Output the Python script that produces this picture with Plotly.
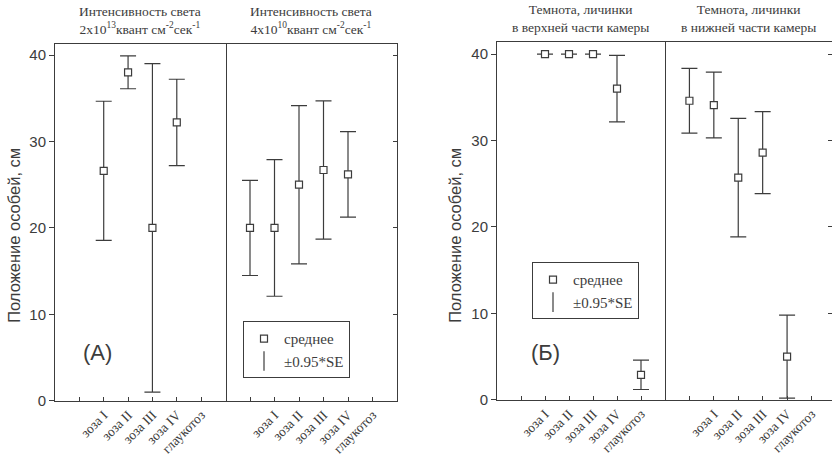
import plotly.graph_objects as go

# Category labels shared by all four panels (x slots 2..6; slot 1 carries only a tick)
CATEGORIES = ["зоза I", "зоза II", "зоза III", "зоза IV", "глаукотоз"]
Y_TICKS = [0, 10, 20, 30, 40]

# (А) light 2x10^13 — mean position, cm, and ±0.95*SE half-width
light_high_mean = [26.6, 38.0, 20.0, 32.2, None]
light_high_se = [8.05, 1.9, 19.0, 5.0, None]

# (А) light 4x10^10
light_low_mean = [20.0, 20.0, 25.0, 26.7, 26.2]
light_low_se = [5.5, 7.9, 9.15, 8.0, 4.95]

# (Б) darkness, larvae started in the upper part of the chamber
dark_top_mean = [40.0, 40.0, 40.0, 36.0, 2.9]
dark_top_se = [0.0, 0.0, 0.0, 3.85, 1.7]

# (Б) darkness, larvae started in the lower part of the chamber
dark_bottom_mean = [34.6, 34.1, 25.7, 28.6, 5.0]
dark_bottom_se = [3.75, 3.8, 6.85, 4.75, 4.8]

HEADERS = [
    "Интенсивность света<br>2x10<sup>13</sup>квант см<sup>-2</sup>сек<sup>-1</sup>",
    "Интенсивность света<br>4x10<sup>10</sup>квант см<sup>-2</sup>сек<sup>-1</sup>",
    "Темнота, личинки<br>в верхней части камеры",
    "Темнота, личинки<br>в нижней части камеры",
]
Y_TITLE = "Положение особей, см"
MEAN_NAME = "среднее"
SE_NAME = "±0.95*SE"

INK = "#3c3c3c"
SERIF = "Liberation Serif, Times New Roman, serif"
SANS = "Liberation Sans, Arial, sans-serif"

W, H = 832, 457


def px_x(p):
    return p / W


def px_y(p):
    return 1 - p / H


DOM_A = [px_y(408), px_y(45)]
DOM_B = [px_y(407), px_y(42.7)]

MARKER = dict(symbol="square", size=7, color="white", line=dict(color=INK, width=1.2))

fig = go.Figure()


def add_series(xa, ya, means, errs, first_slot):
    xs = [first_slot + i for i in range(len(means))]
    fig.add_trace(go.Scatter(
        x=xs, y=means, mode="markers", xaxis=xa, yaxis=ya, showlegend=False,
        cliponaxis=False, marker=MARKER,
        error_y=dict(type="data", array=errs, visible=True, color=INK,
                     thickness=1.2, width=8),
    ))


add_series("x", "y", light_high_mean, light_high_se, 2)
add_series("x2", "y2", light_low_mean, light_low_se, 1)
add_series("x3", "y3", dark_top_mean, dark_top_se, 2)
add_series("x4", "y4", dark_bottom_mean, dark_bottom_se, 1)

# Legend-only entries, one legend box per figure half
for leg, xa, ya in [("legend", "x2", "y2"), ("legend2", "x3", "y3")]:
    fig.add_trace(go.Scatter(
        x=[None], y=[None], mode="markers", name=MEAN_NAME, legend=leg,
        xaxis=xa, yaxis=ya, marker=MARKER,
    ))
    fig.add_trace(go.Scatter(
        x=[None], y=[None], mode="markers", name=SE_NAME, legend=leg,
        xaxis=xa, yaxis=ya,
        marker=dict(symbol="line-ns", size=14, line=dict(color=INK, width=1.2)),
    ))


def x_axis(domain, anchor, rng):
    return dict(
        domain=domain, anchor=anchor, range=rng,
        tickmode="array", tickvals=[2, 3, 4, 5, 6], ticktext=CATEGORIES,
        tickangle=-45, ticks="inside", ticklen=4, tickcolor=INK,
        minor=dict(tickmode="array", tickvals=[1], ticks="inside", ticklen=4,
                   tickcolor=INK, showgrid=False),
        showline=True, linecolor=INK, linewidth=1, mirror=True,
        showgrid=False, zeroline=False,
        tickfont=dict(family=SERIF, size=13.5, color=INK),
    )


def y_axis_main(domain, anchor, top):
    return dict(
        domain=domain, anchor=anchor, range=[0, top],
        tickmode="array", tickvals=Y_TICKS,
        ticks="outside", ticklen=5, tickcolor=INK,
        showline=True, linecolor=INK, linewidth=1, mirror=True,
        showgrid=False, zeroline=False,
        tickfont=dict(family=SANS, size=15, color=INK),
    )


def y_axis_side(domain, anchor, top):
    return dict(
        domain=domain, anchor=anchor, side="right", range=[0, top],
        tickmode="array", tickvals=Y_TICKS, showticklabels=False,
        ticks="inside", ticklen=4, tickcolor=INK,
        showline=True, linecolor=INK, linewidth=1,
        showgrid=False, zeroline=False,
    )


def legend_box(left, top):
    return dict(
        x=px_x(left), y=px_y(top), xanchor="left", yanchor="top",
        bgcolor="white", bordercolor=INK, borderwidth=1,
        font=dict(family=SERIF, size=15, color=INK),
        itemwidth=30, tracegroupgap=0,
    )


fig.update_layout(
    width=W, height=H, margin=dict(l=0, r=0, t=0, b=0),
    paper_bgcolor="white", plot_bgcolor="white",
    xaxis=x_axis([px_x(55), px_x(225.5)], "y", [0, 7]),
    xaxis2=x_axis([px_x(225.5), px_x(397)], "y2", [0, 7]),
    xaxis3=x_axis([px_x(497), px_x(665)], "y3", [0, 7]),
    xaxis4=x_axis([px_x(665), 1.0], "y4", [0, 6.84]),
    yaxis=y_axis_main(DOM_A, "x", 41.25),
    yaxis2=y_axis_side(DOM_A, "x2", 41.25),
    yaxis3=y_axis_main(DOM_B, "x3", 41.4),
    yaxis4=y_axis_side(DOM_B, "x4", 41.4),
    legend=legend_box(243, 327),
    legend2=legend_box(532, 267),
)

header_x = [140, 311, 580, 748]
header_y = [40, 40, 38, 38]
for text, cx, by in zip(HEADERS, header_x, header_y):
    fig.add_annotation(
        text=text, xref="paper", yref="paper", x=px_x(cx), y=px_y(by),
        xanchor="center", yanchor="bottom", showarrow=False,
        font=dict(family=SERIF, size=13.5, color=INK),
    )

# Vertical axis titles of the two halves
for cx in (14, 455):
    fig.add_annotation(
        text=Y_TITLE, xref="paper", yref="paper", x=px_x(cx), y=px_y(240),
        xanchor="center", yanchor="middle", showarrow=False, textangle=-90,
        font=dict(family=SANS, size=16.5, color=INK),
    )

for label, cx, cy in [("(А)", 97, 359), ("(Б)", 545, 358.5)]:
    fig.add_annotation(
        text=label, xref="paper", yref="paper", x=px_x(cx), y=px_y(cy),
        xanchor="center", yanchor="middle", showarrow=False,
        font=dict(family=SANS, size=22, color=INK),
    )

fig.write_html("out.html")
